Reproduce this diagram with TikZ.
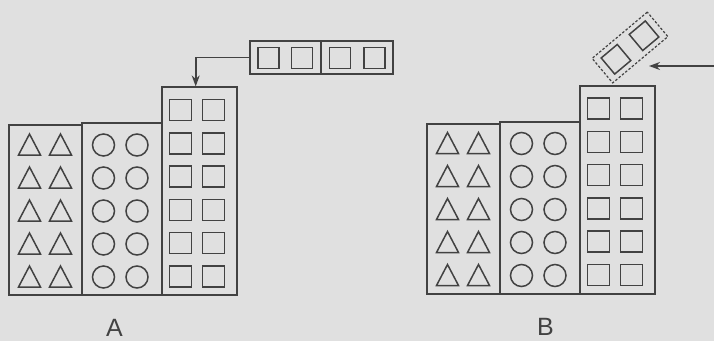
\documentclass[tikz,border=0pt]{standalone}
\usepackage{fontspec}
\setmainfont{Liberation Sans}
\usetikzlibrary{arrows.meta,calc}
\definecolor{bg}{RGB}{224,224,224}
\definecolor{ink}{RGB}{66,66,66}
\begin{document}
\begin{tikzpicture}[x=1pt,y=-1pt,
  colbox/.style={draw=ink, line width=1.6pt, inner sep=0pt, anchor=south west},
  shp/.style={draw=ink, line width=1.5pt},
  sqbox/.style={draw=ink, line width=1.5pt, inner sep=0pt, minimum size=21pt},
  stripbox/.style={draw=ink, line width=1.6pt, inner sep=0pt, minimum width=143pt, minimum height=33pt},
  tiltbox/.style={draw=ink, line width=1.2pt, dash pattern=on 2.5pt off 1.8pt, inner sep=0pt, minimum width=72pt, minimum height=32pt, rotate=40},
  arr/.style={draw=ink, line width=1.6pt, -{Stealth[length=11pt,width=8pt]}},
  lbl/.style={text=ink, font=\fontsize{25}{25}\selectfont, anchor=base, inner sep=0pt},
  building/.pic={
    \node[colbox, minimum width=73pt, minimum height=170pt] (-left) at (8,296) {};
    \node[colbox, minimum width=80pt, minimum height=172pt] (-mid) at (81,296) {};
    \node[colbox, minimum width=75pt, minimum height=208pt] (-right) at (161,296) {};
    \foreach \r in {0,...,4}{
      \foreach \cx in {29.5,60.5}{
        \draw[shp, line join=miter] ({\cx-11},{145+33*\r+10}) -- ({\cx+11},{145+33*\r+10}) -- (\cx,{145+33*\r-11}) -- cycle;
      }
      \foreach \cx in {103.5,137}{
        \draw[shp] (\cx,{145+33*\r}) circle[radius=11pt];
      }
    }
    \foreach \r in {0,...,5}{
      \foreach \cx in {180.5,213.5}{
        \draw[shp] ({\cx-11},{110+33.3*\r-10.5}) rectangle ({\cx+11},{110+33.3*\r+10.5});
      }
    }
  }]
\fill[bg] (0,0) rectangle (714,341);
\useasboundingbox (0,0) rectangle (714,341);

% Building A
\pic (A) at (0,0) {building};
\node[stripbox] (stripA) at (321.5,57.5) {};
\draw[ink, line width=1.6pt] (stripA.north) ++(-0.5,0) coordinate (divT) -- (stripA.south -| divT);
\foreach \cx [count=\i] in {268.5,302,340,374.5}{
  \node[sqbox] (sqA\i) at (\cx,58) {};
}
\draw[arr] (stripA.west) -| ($(A-right.north west)!0.453!(A-right.north east)$);
\node[lbl] (labA) at (114.5,336) {A};

% Building B
\pic (B) at (418,-1.5) {building};
\node[tiltbox] (stripB) at (630,47.5) {};
\node[sqbox, rotate=40] (sqB1) at ($(stripB.center)!0.5!(stripB.west)$) {};
\node[sqbox, rotate=40] (sqB2) at ($(stripB.center)!0.5!(stripB.east)$) {};
\coordinate (bStart) at (714,66);
\coordinate (bTip) at (649,66);
\draw[arr] (bStart) -- (bTip);
\node[lbl] (labB) at (545.5,335) {B};
\end{tikzpicture}
\end{document}
